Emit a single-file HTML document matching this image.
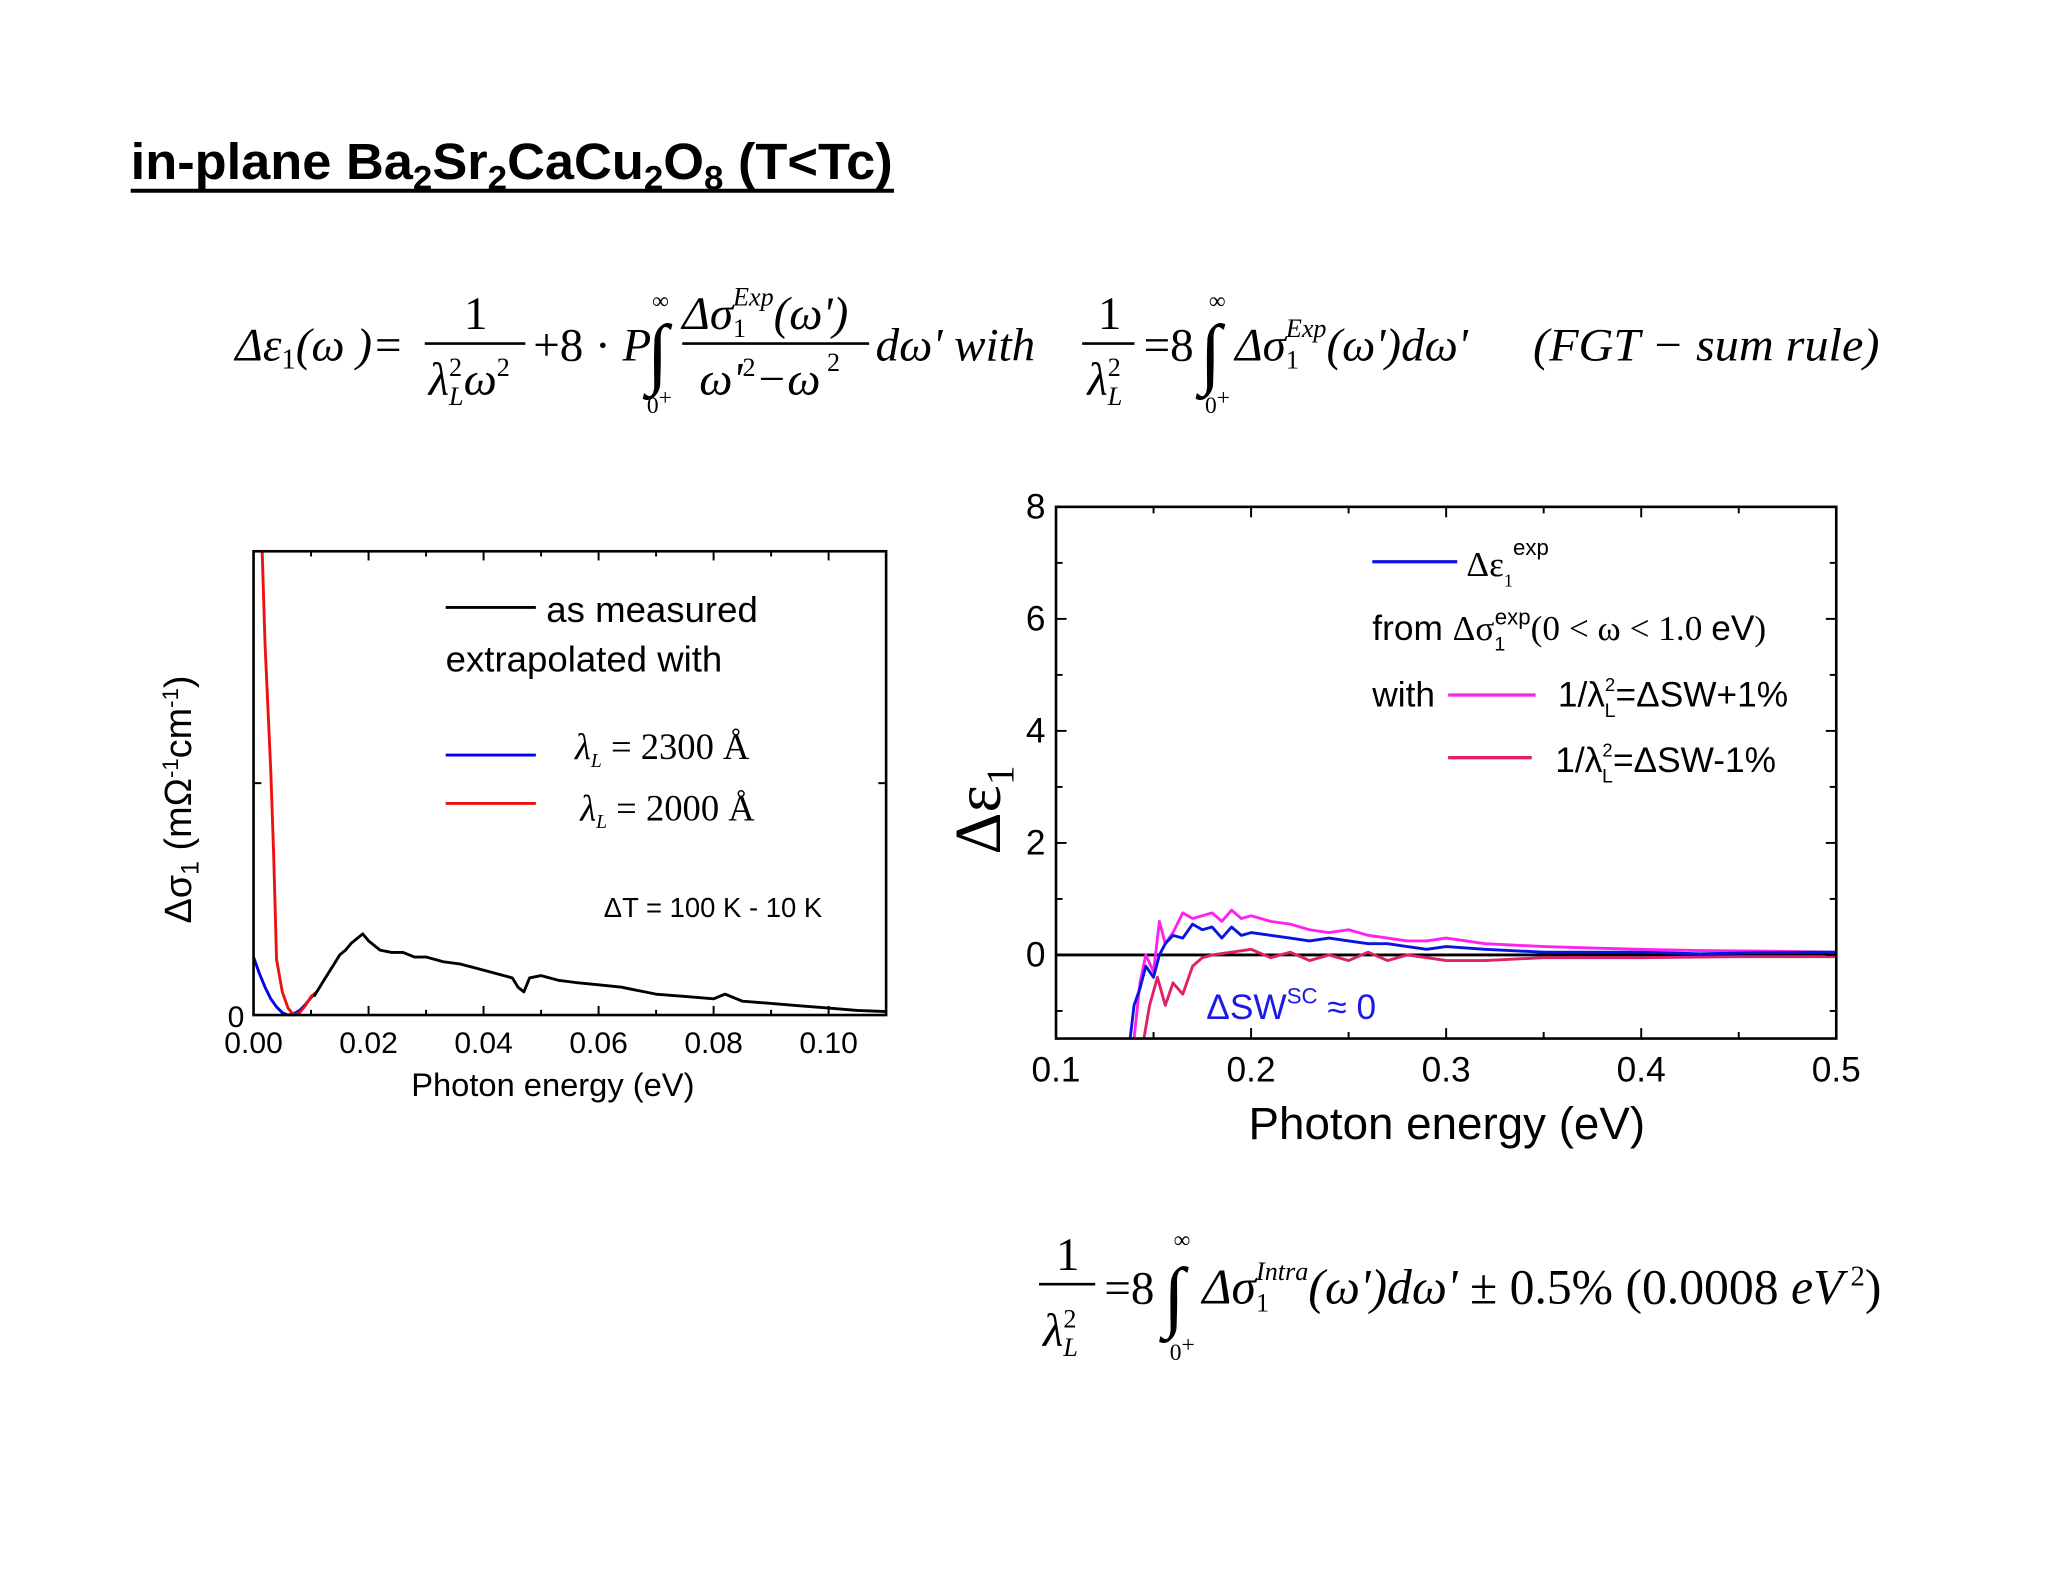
<!DOCTYPE html>
<html><head><meta charset="utf-8"><style>
html,body{margin:0;padding:0;background:#fff}
svg{display:block}
.eq{font-family:"Liberation Serif",serif;font-style:italic;font-size:36px}
.ss{font-family:"Liberation Sans",sans-serif}
</style></head><body>
<svg id="s" xmlns="http://www.w3.org/2000/svg" width="2048" height="1582" viewBox="0 0 1567 1211" preserveAspectRatio="none">
<rect width="1567" height="1211" fill="#fff"/>
<g>
<text x="100" y="137" class="ss" font-family="Liberation Sans,sans-serif" font-weight="bold" font-size="39" textLength="583" lengthAdjust="spacingAndGlyphs">in-plane Ba<tspan font-size="26" dy="8">2</tspan><tspan dy="-8">Sr</tspan><tspan font-size="26" dy="8">2</tspan><tspan dy="-8">CaCu</tspan><tspan font-size="26" dy="8">2</tspan><tspan dy="-8">O</tspan><tspan font-size="26" dy="8">8</tspan><tspan dy="-8"> (T&lt;Tc)</tspan></text>
<line x1="100" y1="146" x2="684" y2="146" stroke="#000" stroke-width="3"/>
</g>
<g class="eq">
<text x="180" y="276">Δε<tspan font-size="22" dy="6" font-style="normal">1</tspan><tspan dy="-6">(ω )=</tspan></text>
<text x="355" y="252" font-style="normal">1</text>
<line x1="325" y1="263" x2="402" y2="263" stroke="#000" stroke-width="2"/>
<text x="328" y="302">λ<tspan font-size="20" dy="-14" font-style="normal">2</tspan><tspan font-size="20" dx="-10" dy="22">L</tspan><tspan dy="-8">ω</tspan><tspan font-size="20" dy="-14" font-style="normal">2</tspan></text>
<text x="408" y="276" font-style="normal">+8 · <tspan font-style="italic">P</tspan></text>
<text x="495" y="290" font-size="60" font-style="normal">∫</text>
<text x="499" y="236" font-size="18" font-style="normal">∞</text>
<text x="495" y="316" font-size="18" font-style="normal">0<tspan dy="-6">+</tspan></text>
<text x="522" y="252">Δσ<tspan font-size="20" dy="6" font-style="normal">1</tspan><tspan font-size="20" dx="-10" dy="-24">Exp</tspan><tspan dy="18">(ω')</tspan></text>
<line x1="522" y1="263" x2="665" y2="263" stroke="#000" stroke-width="2"/>
<text x="535" y="302">ω'<tspan font-size="20" dy="-14" font-style="normal">2</tspan><tspan dy="14">−ω</tspan><tspan font-size="20" dy="-18" font-style="normal"> 2</tspan></text>
<text x="670" y="276">dω' with</text>
<text x="840" y="252" font-style="normal">1</text>
<line x1="828" y1="263" x2="868" y2="263" stroke="#000" stroke-width="2"/>
<text x="832" y="302">λ<tspan font-size="20" dy="-14" font-style="normal">2</tspan><tspan font-size="20" dx="-10" dy="22">L</tspan></text>
<text x="875" y="276" font-style="normal">=8</text>
<text x="918" y="290" font-size="60" font-style="normal">∫</text>
<text x="925" y="236" font-size="18" font-style="normal">∞</text>
<text x="922" y="316" font-size="18" font-style="normal">0<tspan dy="-6">+</tspan></text>
<text x="945" y="276">Δσ<tspan font-size="20" dy="6" font-style="normal">1</tspan><tspan font-size="20" dx="-10" dy="-24">Exp</tspan><tspan dy="18">(ω')dω'</tspan></text>
<text x="1173" y="276" textLength="265" lengthAdjust="spacingAndGlyphs">(FGT − sum  rule)</text>
</g>
<g class="eq">
<text x="808" y="972" font-style="normal">1</text>
<line x1="795" y1="983" x2="838" y2="983" stroke="#000" stroke-width="2"/>
<text x="798" y="1030">λ<tspan font-size="20" dy="-14" font-style="normal">2</tspan><tspan font-size="20" dx="-10" dy="22">L</tspan></text>
<text x="845" y="998" font-style="normal">=8</text>
<text x="890" y="1012" font-size="60" font-style="normal">∫</text>
<text x="898" y="955" font-size="18" font-style="normal">∞</text>
<text x="895" y="1041" font-size="18" font-style="normal">0<tspan dy="-6">+</tspan></text>
<text x="920" y="998" font-size="38">Δσ<tspan font-size="20" dy="6" font-style="normal">1</tspan><tspan font-size="20" dx="-10" dy="-24">Intra</tspan><tspan dy="18">(ω')dω'</tspan><tspan font-style="normal"> ± 0.5% (0.0008 </tspan>eV<tspan font-size="22" dy="-14" font-style="normal"> 2</tspan><tspan dy="14" font-style="normal">)</tspan></text>
</g>
<g id="left"></g>
<g id="right"></g>
</svg>
<script>
// Left chart data
const lxBlack=[0.0105,0.012,0.013,0.014,0.015,0.016,0.017,0.018,0.019,0.020,0.021,0.022,0.024,0.026,0.028,0.030,0.033,0.036,0.039,0.042,0.045,0.046,0.047,0.048,0.050,0.053,0.056,0.060,0.064,0.066,0.070,0.075,0.080,0.082,0.085,0.090,0.095,0.100,0.105,0.110];
const lyBlack=[0.08,0.14,0.18,0.22,0.26,0.28,0.31,0.33,0.35,0.32,0.30,0.28,0.27,0.27,0.25,0.25,0.23,0.22,0.20,0.18,0.16,0.12,0.10,0.16,0.17,0.15,0.14,0.13,0.12,0.11,0.09,0.08,0.07,0.09,0.06,0.05,0.04,0.03,0.02,0.015];
const lxBlue=[0,0.001,0.002,0.003,0.004,0.005,0.006,0.007,0.008,0.009,0.010,0.011];
const lyBlue=[0.25,0.18,0.12,0.07,0.035,0.01,0.0,0.005,0.02,0.045,0.075,0.1];
const lxRed=[0.0015,0.002,0.003,0.0035,0.004,0.005,0.006,0.007,0.008,0.009,0.010,0.011];
const lyRed=[2.0,1.6,1.05,0.69,0.24,0.1,0.03,0.0,0.01,0.04,0.08,0.1];
const lxTicks=[0,0.02,0.04,0.06,0.08,0.10];
const lxTickLabels=["0.00","0.02","0.04","0.06","0.08","0.10"];
// Right chart data
const rxBlue=[0.138,0.14,0.143,0.146,0.15,0.153,0.156,0.16,0.165,0.17,0.175,0.18,0.185,0.19,0.195,0.2,0.21,0.22,0.23,0.24,0.25,0.26,0.27,0.28,0.29,0.3,0.32,0.35,0.38,0.4,0.43,0.46,0.49,0.5];
const ryBlue=[-1.5,-0.9,-0.6,-0.2,-0.4,0.0,0.2,0.35,0.3,0.55,0.45,0.5,0.3,0.5,0.35,0.4,0.35,0.3,0.25,0.3,0.25,0.2,0.2,0.15,0.1,0.15,0.1,0.05,0.05,0.05,0.02,0.04,0.05,0.05];
const rxMag=[0.14,0.143,0.146,0.15,0.153,0.156,0.16,0.165,0.17,0.175,0.18,0.185,0.19,0.195,0.2,0.21,0.22,0.23,0.24,0.25,0.26,0.27,0.28,0.29,0.3,0.32,0.35,0.38,0.4,0.43,0.46,0.5];
const ryMag=[-1.5,-0.5,0.0,-0.3,0.6,0.2,0.4,0.75,0.65,0.7,0.75,0.6,0.8,0.65,0.7,0.6,0.55,0.45,0.4,0.45,0.35,0.3,0.25,0.25,0.3,0.2,0.15,0.12,0.1,0.08,0.07,0.05];
const rxPink=[0.145,0.148,0.152,0.156,0.16,0.165,0.17,0.175,0.18,0.19,0.2,0.21,0.22,0.23,0.24,0.25,0.26,0.27,0.28,0.29,0.3,0.32,0.35,0.4,0.45,0.5];
const ryPink=[-1.5,-0.9,-0.4,-0.9,-0.5,-0.7,-0.2,-0.05,0.0,0.05,0.1,-0.05,0.05,-0.1,0.0,-0.1,0.05,-0.1,0.0,-0.05,-0.1,-0.1,-0.05,-0.05,-0.03,-0.03];
const rxTicks=[0.1,0.2,0.3,0.4,0.5];
const ryTicks=[0,2,4,6,8];

const NS="http://www.w3.org/2000/svg";
function mk(parent,tag,attrs){const e=document.createElementNS(NS,tag);for(const k in attrs)e.setAttribute(k,attrs[k]);parent.appendChild(e);return e;}

// Left chart
const L=document.getElementById('left');
const lx=v=>194+(v-0)/(0.11)*(678-194);
const ly=v=>777-v/2*(777-422);
function lineL(xs,ys,color,name){const d=xs.map((x,i)=>(i?'L':'M')+lx(x).toFixed(1)+','+ly(ys[i]).toFixed(1)).join('');
const p=mk(L,'path',{d:d,fill:'none',stroke:color,'stroke-width':2.2,'stroke-linejoin':'round'});

}
lineL(lxBlue,lyBlue,'#0000ee','series-blue-2300');
lineL(lxRed,lyRed,'#ee1111','series-red-2000');
lineL(lxBlack,lyBlack,'#000','series-as-measured');
const lbox=mk(L,'rect',{x:194,y:422,width:484,height:355,fill:'none',stroke:'#000','stroke-width':2});


for(let v=0;v<=0.11001;v+=0.01){const X=lx(v);const big=Math.round(v*100)%2==0;const h=big?7:4;
mk(L,'line',{x1:X,y1:777,x2:X,y2:777-h,stroke:'#000','stroke-width':1.5});mk(L,'line',{x1:X,y1:422,x2:X,y2:422+h,stroke:'#000','stroke-width':1.5});}
[0,1].forEach(v=>{mk(L,'line',{x1:194,y1:ly(v),x2:200,y2:ly(v),stroke:'#000','stroke-width':1.5});mk(L,'line',{x1:678,y1:ly(v),x2:672,y2:ly(v),stroke:'#000','stroke-width':1.5});});
lxTicks.forEach((v,i)=>{const t=mk(L,'text',{x:lx(v),y:806,'text-anchor':'middle','font-family':'Liberation Sans,sans-serif','font-size':23});t.textContent=lxTickLabels[i];

});
{const t=mk(L,'text',{x:187,y:786,'text-anchor':'end','font-family':'Liberation Sans,sans-serif','font-size':23});t.textContent='0';}
{const t=mk(L,'text',{x:423,y:839,'text-anchor':'middle','font-family':'Liberation Sans,sans-serif','font-size':25});t.textContent='Photon energy (eV)';

}
{const t=mk(L,'text',{x:0,y:0,transform:'translate(146,612) rotate(-90)','text-anchor':'middle','font-family':'Liberation Sans,sans-serif','font-size':29});
t.innerHTML='Δσ<tspan font-size="19" dy="6">1</tspan><tspan dy="-6"> (mΩ</tspan><tspan font-size="17" dy="-10">-1</tspan><tspan dy="10">cm</tspan><tspan font-size="17" dy="-10">-1</tspan><tspan dy="10">)</tspan>';

}
mk(L,'line',{x1:341,y1:465,x2:410,y2:465,stroke:'#000','stroke-width':2.2});
mk(L,'line',{x1:341,y1:578,x2:410,y2:578,stroke:'#0000ee','stroke-width':2.2});
mk(L,'line',{x1:341,y1:615,x2:410,y2:615,stroke:'#ee1111','stroke-width':2.2});
{const g=mk(L,'g',{'font-family':'Liberation Sans,sans-serif','font-size':28});


g.innerHTML='<text x="418" y="476">as measured</text><text x="341" y="514">extrapolated with</text>'+
'<text x="440" y="581" font-family="Liberation Serif,serif" font-size="28"><tspan font-style="italic">λ</tspan><tspan font-size="15" font-style="italic" dy="6">L</tspan><tspan dy="-6"> = 2300 Å</tspan></text>'+
'<text x="444" y="628" font-family="Liberation Serif,serif" font-size="28"><tspan font-style="italic">λ</tspan><tspan font-size="15" font-style="italic" dy="6">L</tspan><tspan dy="-6"> = 2000 Å</tspan></text>'+
'<text x="462" y="702" font-size="21">ΔT = 100 K - 10 K</text>';}

// Right chart
const R=document.getElementById('right');
const rx=v=>808+(v-0.1)/0.4*(1405-808);
const ry=v=>731-v*(731-388)/8;
mk(R,'clipPath',{id:'rclip'}).appendChild(document.createElementNS(NS,'rect'));
{const c=R.querySelector('clipPath rect');c.setAttribute('x',808);c.setAttribute('y',388);c.setAttribute('width',597);c.setAttribute('height',407);}
function lineR(xs,ys,color,name){const d=xs.map((x,i)=>(i?'L':'M')+rx(x).toFixed(1)+','+ry(ys[i]).toFixed(1)).join('');
const p=mk(R,'path',{d:d,fill:'none',stroke:color,'stroke-width':2.2,'stroke-linejoin':'round','clip-path':'url(#rclip)'});

}
mk(R,'line',{x1:808,y1:ry(0),x2:1405,y2:ry(0),stroke:'#000','stroke-width':2.2});
lineR(rxPink,ryPink,'#e0206a','series-minus-1pct');
lineR(rxMag,ryMag,'#ff22ee','series-plus-1pct');
lineR(rxBlue,ryBlue,'#0a14e0','series-eps-exp');
const rbox=mk(R,'rect',{x:808,y:388,width:597,height:407,fill:'none',stroke:'#000','stroke-width':2});


for(let v=0.1;v<=0.5001;v+=0.05){const X=rx(v);const big=Math.abs(v*10-Math.round(v*10))<0.01;const h=big?8:5;
mk(R,'line',{x1:X,y1:795,x2:X,y2:795-h,stroke:'#000','stroke-width':1.5});mk(R,'line',{x1:X,y1:388,x2:X,y2:388+h,stroke:'#000','stroke-width':1.5});}
for(let v=-1;v<=8;v++){const Y=ry(v);const h=v%2==0?8:5;
mk(R,'line',{x1:808,y1:Y,x2:808+h,y2:Y,stroke:'#000','stroke-width':1.5});mk(R,'line',{x1:1405,y1:Y,x2:1405-h,y2:Y,stroke:'#000','stroke-width':1.5});}
rxTicks.forEach(v=>{const t=mk(R,'text',{x:rx(v),y:828,'text-anchor':'middle','font-family':'Liberation Sans,sans-serif','font-size':27});t.textContent=String(v);

});
ryTicks.forEach(v=>{const t=mk(R,'text',{x:800,y:ry(v)+9,'text-anchor':'end','font-family':'Liberation Sans,sans-serif','font-size':27});t.textContent=String(v);

});
{const t=mk(R,'text',{x:1107,y:872,'text-anchor':'middle','font-family':'Liberation Sans,sans-serif','font-size':35});t.textContent='Photon energy (eV)';

}
{const t=mk(R,'text',{x:0,y:0,transform:'translate(765,620) rotate(-90)','text-anchor':'middle','font-family':'Liberation Serif,serif','font-size':50});
t.innerHTML='Δε<tspan font-size="30" dy="10">1</tspan>';

}
mk(R,'line',{x1:1050,y1:430,x2:1115,y2:430,stroke:'#0a14e0','stroke-width':2.5});
mk(R,'line',{x1:1108,y1:532,x2:1175,y2:532,stroke:'#ff22ee','stroke-width':2.5});
mk(R,'line',{x1:1108,y1:580,x2:1172,y2:580,stroke:'#e0206a','stroke-width':2.5});
{const g=mk(R,'g',{'font-family':'Liberation Sans,sans-serif','font-size':27});


g.innerHTML='<text x="1122" y="441" font-family="Liberation Serif,serif" font-size="27">Δε<tspan font-size="14" dy="8">1</tspan><tspan font-family="Liberation Sans,sans-serif" font-size="17" dy="-24">exp</tspan></text>'+
'<text x="1050" y="490">from <tspan font-family="Liberation Serif,serif">Δσ</tspan><tspan font-size="15" dy="8">1</tspan><tspan font-size="17" dx="-8" dy="-20">exp</tspan><tspan font-family="Liberation Serif,serif" dy="12">(0 &lt; ω &lt; 1.0 </tspan>eV<tspan font-family="Liberation Serif,serif">)</tspan></text>'+
'<text x="1050" y="541">with</text>'+
'<text x="1192" y="541">1/λ<tspan font-size="14" dy="-12">2</tspan><tspan font-size="15" dx="-8" dy="20">L</tspan><tspan dy="-8">=ΔSW+1%</tspan></text>'+
'<text x="1190" y="591">1/λ<tspan font-size="14" dy="-12">2</tspan><tspan font-size="15" dx="-8" dy="20">L</tspan><tspan dy="-8">=ΔSW-1%</tspan></text>'+
'<text x="923" y="780" fill="#1a1ae8">ΔSW<tspan font-size="17" dy="-12">SC</tspan><tspan dy="12"> ≈ 0</tspan></text>';}
</script>
</body></html>
